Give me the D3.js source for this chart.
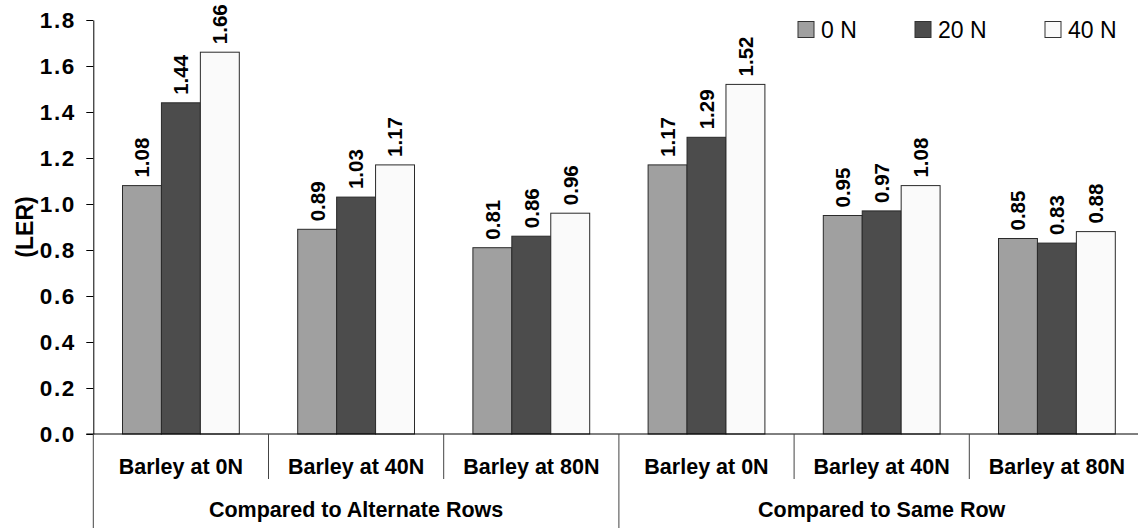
<!DOCTYPE html>
<html>
<head>
<meta charset="utf-8">
<script src="https://cdn.jsdelivr.net/npm/d3@7"></script>
<style>
  html, body { margin: 0; padding: 0; background: #fff; }
  svg { display: block; font-family: "Liberation Sans", Arial, sans-serif; }
</style>
</head>
<body>
<svg id="chart" width="1138" height="528"></svg>
<script>
// ---- data ----
const groups = ["Compared to Alternate Rows", "Compared to Same Row"];
const categories = ["Barley at 0N", "Barley at 40N", "Barley at 80N"];
const seriesNames = ["0 N", "20 N", "40 N"];
const values0N  = [1.08, 0.89, 0.81, 1.17, 0.95, 0.85];
const values20N = [1.44, 1.03, 0.86, 1.29, 0.97, 0.83];
const values40N = [1.66, 1.17, 0.96, 1.52, 1.08, 0.88];
const yTicks = [0, 0.2, 0.4, 0.6, 0.8, 1.0, 1.2, 1.4, 1.6, 1.8];
const yLabel = "(LER)";

(function () {
const seriesValues = [values0N, values20N, values40N];
const colors = ["#a0a0a0", "#4c4c4c", "#fafafa"];

const keys = [];
groups.forEach((g, gi) => categories.forEach((c, ci) => keys.push({ key: gi + "|" + c, g: gi, c: c, idx: gi * categories.length + ci })));

const svg = d3.select("#chart");
const pLeft = 93.3, pRight = 1144.5, pTop = 20, pBottom = 434;

const x = d3.scaleBand().domain(keys.map(k => k.key)).range([pLeft, pRight]).paddingInner(0).paddingOuter(0);
const xs = d3.scaleBand().domain(seriesNames).range([0, x.bandwidth()]).paddingInner(0).paddingOuter(0.75);
const y = d3.scaleLinear().domain([0, 1.8]).range([pBottom, pTop]);

seriesNames.forEach((s, si) => {
  svg.append("g").selectAll("rect")
    .data(keys)
    .join("rect")
    .attr("x", d => x(d.key) + xs(s))
    .attr("y", d => y(seriesValues[si][d.idx]))
    .attr("width", xs.bandwidth())
    .attr("height", d => y(0) - y(seriesValues[si][d.idx]))
    .attr("fill", colors[si])
    .attr("stroke", "#2a2a2a")
    .attr("stroke-width", 1);

  svg.append("g").selectAll("text")
    .data(keys)
    .join("text")
    .attr("transform", d => `translate(${x(d.key) + xs(s) + xs.bandwidth() / 2},${y(seriesValues[si][d.idx]) - 8}) rotate(-90)`)
    .attr("dy", "0.36em")
    .attr("text-anchor", "start")
    .attr("font-size", 20.5)
    .attr("font-weight", "bold")
    .attr("fill", "#000")
    .text(d => seriesValues[si][d.idx].toFixed(2));
});

const yAxis = d3.axisLeft(y).tickValues(yTicks).tickFormat(d3.format(".1f")).tickSize(7).tickSizeOuter(0).tickPadding(12);
const gy = svg.append("g").attr("transform", `translate(${pLeft},0)`).call(yAxis);
gy.selectAll("text").attr("font-size", 22.5).attr("font-weight", "bold").attr("fill", "#000")
  .attr("font-family", "Liberation Sans, Arial, sans-serif")
  .attr("letter-spacing", "1.6px").attr("dx", 1.6);
gy.selectAll("line").attr("stroke", "#000");
gy.select(".domain").attr("stroke", "#000");

svg.append("line").attr("x1", pLeft - 7).attr("x2", 1138).attr("y1", y(0)).attr("y2", y(0)).attr("stroke", "#000");

svg.append("g").selectAll("line")
  .data(keys.filter(k => categories.indexOf(k.c) > 0))
  .join("line")
  .attr("x1", d => x(d.key)).attr("x2", d => x(d.key))
  .attr("y1", pBottom).attr("y2", 479)
  .attr("stroke", "#444");

svg.append("g").selectAll("line")
  .data(groups)
  .join("line")
  .attr("x1", (g, gi) => x(gi + "|" + categories[0])).attr("x2", (g, gi) => x(gi + "|" + categories[0]))
  .attr("y1", pBottom).attr("y2", 528)
  .attr("stroke", "#444");

svg.append("g").selectAll("text")
  .data(keys)
  .join("text")
  .attr("x", d => x(d.key) + x.bandwidth() / 2)
  .attr("y", 474)
  .attr("text-anchor", "middle")
  .attr("font-size", 21.5)
  .attr("font-weight", "bold")
  .text(d => d.c);

svg.append("g").selectAll("text")
  .data(groups)
  .join("text")
  .attr("x", (g, gi) => x(gi + "|" + categories[0]) + x.bandwidth() * categories.length / 2)
  .attr("y", 517)
  .attr("text-anchor", "middle")
  .attr("font-size", 21.5)
  .attr("font-weight", "bold")
  .text(g => g);

svg.append("text")
  .attr("transform", `translate(33,227) rotate(-90)`)
  .attr("text-anchor", "middle")
  .attr("font-size", 23)
  .attr("font-weight", "bold")
  .text(yLabel);

const legendX = [798, 915, 1045];
const lg = svg.append("g");
seriesNames.forEach((s, si) => {
  lg.append("rect").attr("x", legendX[si]).attr("y", 21.5).attr("width", 16).attr("height", 16)
    .attr("fill", colors[si]).attr("stroke", "#333");
  lg.append("text").attr("x", legendX[si] + 23).attr("y", 37.5)
    .attr("font-size", 23).attr("fill", "#000").text(s);
});
})();
</script>
</body>
</html>
